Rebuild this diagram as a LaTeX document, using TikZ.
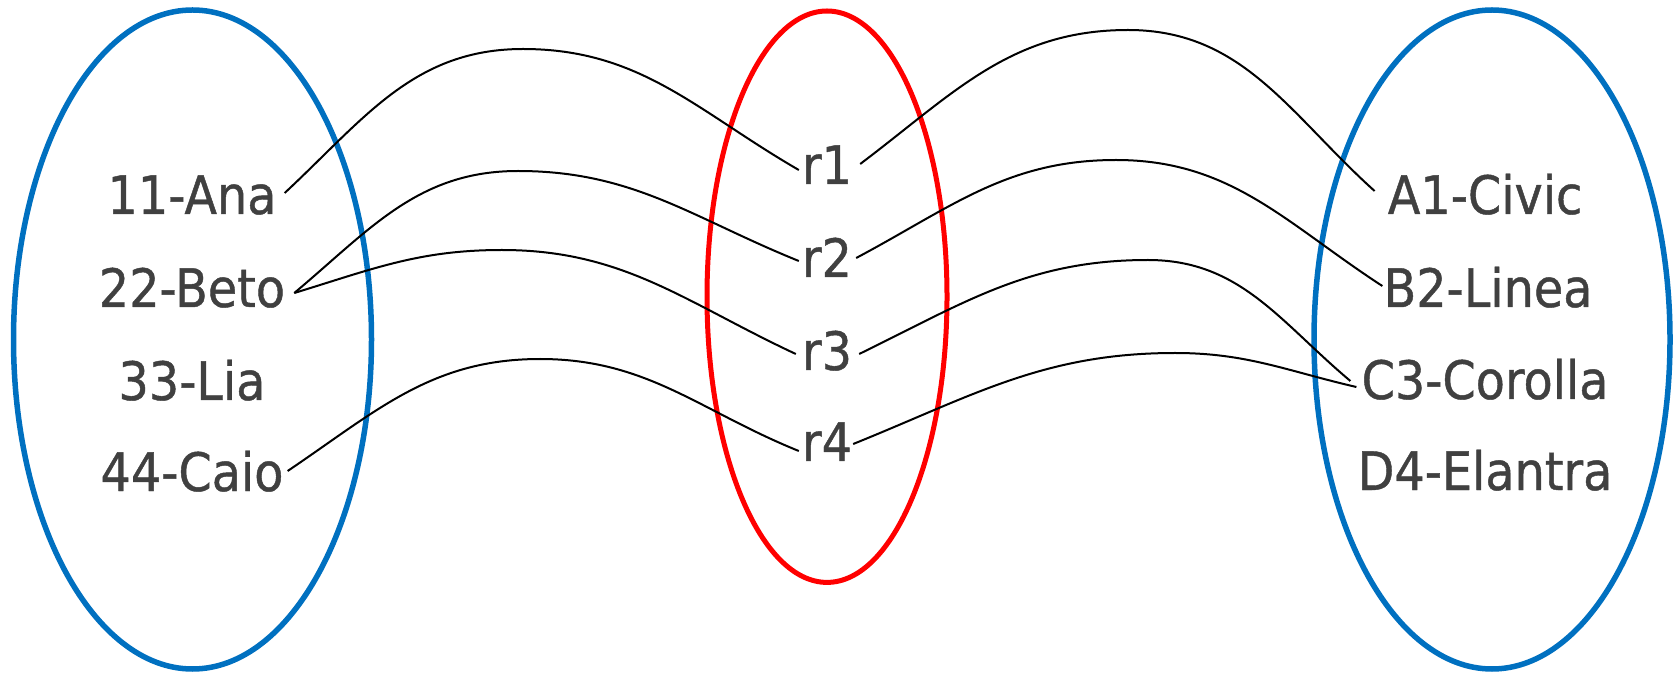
\documentclass[tikz,border=0pt]{standalone}
\usepackage{fontspec}
\setmainfont[FakeStretch=0.9,FakeBold=0.8]{DejaVu Sans}
\definecolor{setblue}{RGB}{0,112,192}
\definecolor{txt}{RGB}{64,64,64}
\begin{document}
\begin{tikzpicture}[x=1pt,y=1pt,
  setE/.style={draw=setblue, line width=5.5pt},
  relE/.style={draw=red, line width=5pt},
  lbl/.style={font=\fontsize{53}{60}\selectfont, text=txt, inner sep=0pt, anchor=base},
  link/.style={draw=black, line width=2pt}]
\useasboundingbox (0,0) rectangle (1675,675);
% sets
\draw[setE] (192.5,335.5) ellipse [x radius=179, y radius=329.5];
\draw[relE] (827,378.3) ellipse [x radius=120, y radius=285.7];
\draw[setE] (1492,335.5) ellipse [x radius=178, y radius=329.5];
% left labels
\node[lbl] (ana)  at (192,461) {11-Ana};
\node[lbl] (beto) at (192,368) {22-Beto};
\node[lbl] (lia)  at (192,275) {33-Lia};
\node[lbl] (caio) at (192,184) {44-Caio};
% relation labels
\node[lbl] (r1) at (827,491) {r1};
\node[lbl] (r2) at (827,398) {r2};
\node[lbl] (r3) at (827,305) {r3};
\node[lbl] (r4) at (827,214) {r4};
% right labels
\node[lbl] (civic)   at (1485,461) {A1-Civic};
\node[lbl] (linea)   at (1488,368) {B2-Linea};
\node[lbl] (corolla) at (1485,276) {C3-Corolla};
\node[lbl] (elantra) at (1485,185) {D4-Elantra};
% peaks
\coordinate (p1) at (523,626);
\coordinate (p2) at (518,504);
\coordinate (p3) at (502,425);
\coordinate (p4) at (540,316);
\coordinate (p5) at (1128,645);
\coordinate (p6) at (1116,515);
\coordinate (p7) at (1148,415);
\coordinate (p8) at (1175,322);
% connectors
\draw[link] ([shift={(8,21)}]ana.base east) to[out=43,in=180] (p1) to[out=0,in=150] ([shift={(-3,14)}]r1.base west);
\draw[link] ([shift={(9,14)}]beto.base east) to[out=40,in=180] (p2) to[out=0,in=158] ([shift={(-3,16)}]r2.base west);
\draw[link] ([shift={(9,14)}]beto.base east) to[out=17,in=180] (p3) to[out=0,in=155] ([shift={(-6,16)}]r3.base west);
\draw[link] ([shift={(4,20)}]caio.base east) to[out=34,in=180] (p4) to[out=0,in=158] ([shift={(-3,10)}]r4.base west);
\draw[link] ([shift={(8,20)}]r1.base east) to[out=37,in=180] (p5) to[out=0,in=138] ([shift={(-13,23)}]civic.base west);
\draw[link] ([shift={(4,19)}]r2.base east) to[out=28,in=180] (p6) to[out=0,in=147] ([shift={(-1,21)}]linea.base west);
\draw[link] ([shift={(7,16)}]r3.base east) to[out=26,in=180] (p7) to[out=0,in=140] ([shift={(-11,18)}]corolla.base west);
\draw[link] ([shift={(1,17)}]r4.base east) to[out=22,in=180] (p8) to[out=0,in=167] ([shift={(-5,12)}]corolla.base west);
\end{tikzpicture}
\end{document}
